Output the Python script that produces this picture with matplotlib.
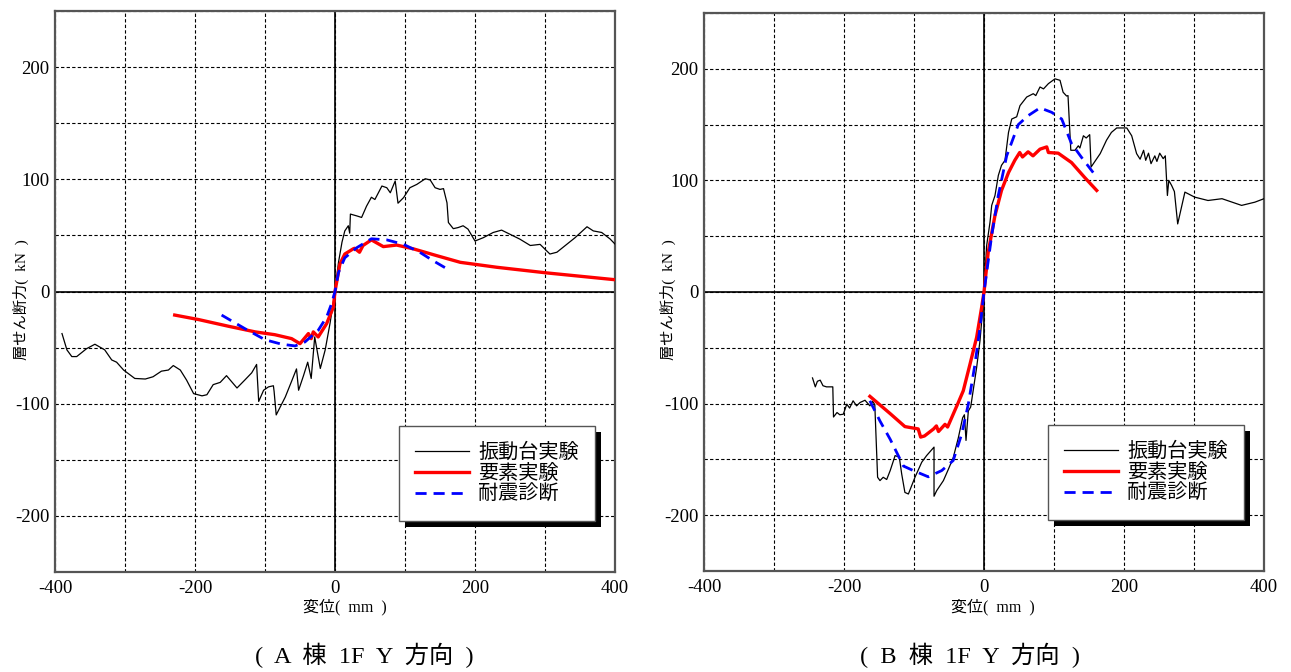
# -*- coding: utf-8 -*-
# 1F Y方向 層せん断力-変位関係（A棟・B棟）
import numpy as np
import matplotlib.pyplot as plt
from matplotlib import patheffects as pe

plt.rcParams['axes.unicode_minus'] = False

# --- A棟 振動台実験 ---
a_shake_x = [-390, -383, -376, -369, -355, -343, -329, -319, -312, -302, -286, -271, -260, -248,
             -238, -231, -221, -212, -202, -190, -183, -174, -164, -155, -140, -129, -119, -112,
             -109, -102, -95, -88, -87, -84, -71, -62, -55, -52, -45, -39, -34, -29, -21, -14,
             -7, -2, 0, 5, 10, 14, 19, 21, 22, 31, 38, 45, 52, 57, 67, 74, 79, 86, 90, 98, 107,
             117, 129, 136, 143, 150, 155, 160, 162, 169, 176, 183, 190, 200, 212, 226, 238, 250,
             264, 279, 293, 307, 317, 331, 343, 360, 369, 381, 393, 400]
a_shake_y = [-37.5, -52, -58, -58, -51, -47, -52, -61, -63, -70, -77.5, -78, -76, -71,
             -70, -66, -70, -79, -91, -93, -92, -83, -81, -75, -86, -79, -72.5, -65,
             -98, -88, -85, -84, -89, -110, -94, -80, -69, -88, -75, -63, -77.5, -40.5, -68.6, -52,
             -28, -8, 0, 26, 44, 54, 58.6, 52, 69, 67.4, 66, 76, 84, 82, 94, 92.5, 88, 98.5, 78.7,
             83.7, 92.5, 95.5, 100.5, 99.4, 92.5, 91, 91.7, 79, 61.5, 56, 57, 58.6, 55.6, 45, 48,
             52.6, 54.7, 51, 46.7, 41, 42, 33.4, 35, 42, 48, 57.7, 54, 52.6, 46.8, 42.3]
# --- A棟 要素実験 ---
a_elem_x = [-229, -195, -152, -114, -86, -62, -50, -38, -34, -31, -24, -12, -2.4, 0, 7, 14, 26,
            28, 35, 40, 52, 69, 88, 112, 145, 179, 231, 302, 400]
a_elem_y = [-21, -25, -31, -36, -38.5, -42, -46.5, -37.5, -42, -36, -40.5, -28.7, -14, 0, 24.5,
            33.4, 38, 38.5, 35, 41, 46, 40, 41.4, 38, 32, 26, 21.6, 16.6, 10.5]
# --- A棟 耐震診断 ---
a_diag_x = [-162, -129, -100, -76, -57, -43, -24, -12, -5, 0, 5, 14, 31, 52, 74, 98, 121, 140, 162]
a_diag_y = [-21, -33, -43, -47, -48.5, -45, -34.6, -22.8, -11, 0, 17, 30, 39, 47, 46, 42, 35,
            27.5, 19.5]

# --- B棟 振動台実験 ---
b_shake_x = [-245, -241, -238, -234, -230, -225, -216, -215, -210, -206, -201, -196, -192, -187,
             -182, -177, -170, -163, -159, -156, -152, -148.6, -144, -139, -134, -127, -121,
             -117.6, -113, -108, -98.6, -89, -82, -71.4, -71.4, -67.6, -58, -51, -44, -36.7,
             -30.5, -28, -25.7, -22.4, -19, -10.5, -5.7, -2, 0, 3.8, 8.6, 11, 15.7, 20.5, 25, 30,
             35, 39.6, 46.7, 51.4, 61, 70.4, 74, 80, 85, 92, 101.4, 108.6, 113, 118, 120, 124,
             130, 134.7, 137, 142, 146, 151, 153, 166, 175, 182, 189.6, 204, 211, 218, 223, 228,
             231, 235, 238.6, 244, 247, 251, 256, 259, 262, 264, 268, 272, 276.7, 287, 301, 320,
             340, 368, 387, 400]
b_shake_y = [-77, -85, -80, -79, -84, -85, -85, -112, -108, -110, -109.5, -100.5, -104, -97.5,
             -102, -99, -97, -102, -98, -101, -166, -169, -166, -168, -160, -146.6, -148,
             -163, -179.6, -181, -166, -152.6, -146.6, -139, -183, -178, -169, -159, -148.6, -130.7,
             -112.7, -110, -133, -106.6, -103, -67.6, -43.5, -16.6, 0, 41.7, 62.6, 77.6, 86.5, 104.5,
             113.5, 118, 143, 155, 157, 167, 174.7, 177.7, 176, 183.7, 182, 186.7, 191, 189.7, 179,
             175.6, 176, 127, 127, 131, 129, 140, 138, 141, 112, 124, 136, 143, 147, 147, 140, 124,
             119, 127, 118, 124.4, 115, 122, 117, 124.4, 119.5, 122, 86.5, 100, 95.5, 90, 61, 89.5,
             85, 82, 83.6, 77.6, 80.5, 83.6]
# --- B棟 要素実験 ---
b_elem_x = [-163, -134, -113, -94, -90.5, -85, -72, -68, -65, -55.7, -52, -44, -36.7, -29.6, -20,
            -10.5, -3.3, 0, 6, 15.7, 25, 35, 44, 51, 55, 63, 70, 80, 89.6, 92, 106, 125, 144, 161]
b_elem_y = [-93.5, -109, -120.6, -122.7, -130, -129, -122.7, -120, -125, -118.6, -121, -109.5, -99,
            -88.5, -64.7, -40.6, -13.5, 0, 35.6, 68.6, 91, 107, 118, 125, 121, 125.6, 122, 128, 130,
            125, 124.4, 116, 102.5, 91]
# --- B棟 耐震診断 ---
b_diag_x = [-163, -148.6, -134, -115, -101, -79.6, -60.4, -44, -32, -22.4, -12.9, -5.7, 0, 11,
            20.4, 32.4, 49, 63, 80, 96.7, 111, 125, 139.6, 156]
b_diag_y = [-97.5, -115.6, -132, -156, -160, -165.6, -160, -151, -127.6, -100.5, -64.7, -32, 0,
            50.7, 86.5, 122, 150, 158, 165, 161, 155, 133, 120.4, 107]

labels = ['振動台実験', '要素実験', '耐震診断']
titles = ['(  A  棟  1F  Y  方向  )', '(  B  棟  1F  Y  方向  )']

jp = ['Noto Sans CJK JP']
mix = ['Liberation Serif', 'Noto Sans CJK JP']

fig = plt.figure(figsize=(12.91, 6.72), dpi=100)
W, H = 1291, 672
# 軸の位置（ピクセル）: 左, 右, 上, 下
boxes = [(55, 615, 11, 572), (704, 1264, 13, 571)]


def draw_panel(box, shake, elem, diag, title, xc, xlab_c, ylab_x):
    l, r, t, b = box
    ax = fig.add_axes([l / W, 1 - b / H, (r - l) / W, (b - t) / H])
    ax.set_xlim(-400, 400)
    ax.set_ylim(-250, 250)
    ax.set_xticks(np.arange(-400, 401, 200))
    ax.set_xticks(np.arange(-400, 401, 100), minor=True)
    ax.set_yticks(np.arange(-200, 201, 100))
    ax.set_yticks(np.arange(-250, 251, 50), minor=True)
    ax.grid(which='both', color='k', linestyle=(0, (3, 2)), linewidth=0.8)
    ax.tick_params(which='both', length=0)
    ax.tick_params(axis='x', pad=6)
    ax.tick_params(axis='y', pad=4)
    for lab in ax.get_xticklabels() + ax.get_yticklabels():
        lab.set_fontfamily('Liberation Serif')
        lab.set_fontsize(13.5)
    ax.axhline(0, color='#222222', linewidth=1.4, zorder=1.5)
    ax.axvline(0, color='#222222', linewidth=1.4, zorder=1.5)
    for sp in ax.spines.values():
        sp.set_color('#555555')
        sp.set_linewidth(1.6)

    ax.plot(shake[0], shake[1], color='k', linewidth=0.9, label=labels[0], zorder=3)
    ax.plot(elem[0], elem[1], color='#ff0000', linewidth=2.4, label=labels[1], zorder=4)
    ax.plot(diag[0], diag[1], color='#0000ff', linewidth=2.0, linestyle=(0, (4, 2.5)),
            label=labels[2], zorder=4)

    leg = ax.legend(loc='lower right', bbox_to_anchor=(0.964, 0.091), borderaxespad=0,
                    fancybox=False, framealpha=1, edgecolor='#555555',
                    prop={'family': jp, 'size': 14.5},
                    handlelength=2.7, handletextpad=0.45, labelspacing=0.0,
                    borderpad=0.8)
    leg.get_frame().set_linewidth(1.0)
    leg.get_frame().set_path_effects([
        pe.SimplePatchShadow(offset=(4.5, -4.5), shadow_rgbFace='k', alpha=1.0),
        pe.Normal()])

    # 軸ラベル
    fig.text(xlab_c / W, 1 - 607 / H, '変位(  mm  )', family=mix, fontsize=11.5,
             ha='center', va='center')
    fig.text(ylab_x / W, 1 - 300 / H, '層せん断力(  kN  )', family=mix, fontsize=11,
             rotation=90, ha='center', va='center')
    fig.text(xc / W, 1 - 655 / H, title, family=mix, fontsize=17.5,
             ha='center', va='center')
    return ax


draw_panel(boxes[0], (a_shake_x, a_shake_y), (a_elem_x, a_elem_y), (a_diag_x, a_diag_y),
           titles[0], 364, 345, 21)
draw_panel(boxes[1], (b_shake_x, b_shake_y), (b_elem_x, b_elem_y), (b_diag_x, b_diag_y),
           titles[1], 970, 993, 668)

fig.savefig('out.png', dpi=100)
